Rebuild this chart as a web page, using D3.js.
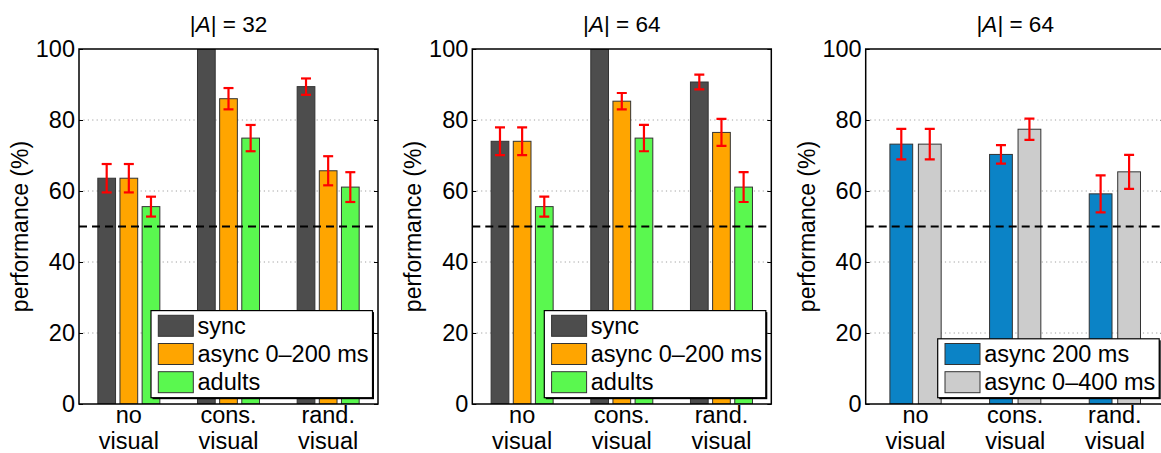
<!DOCTYPE html>
<html><head><meta charset="utf-8">
<script src="https://cdn.jsdelivr.net/npm/d3@7/dist/d3.min.js"></script>
<style>
body{margin:0;background:#fff;}
text{font-family:"Liberation Sans",Arial,Helvetica,sans-serif;fill:#000;}
</style></head>
<body><svg id="chart" width="1161" height="453"></svg>
<script>
// ---- data ----
const categories = [["no","visual"],["cons.","visual"],["rand.","visual"]];
const yTicks = [0,20,40,60,80,100];
const titles = [{pre:"|",it:"A",post:"| = 32"},{pre:"|",it:"A",post:"| = 64"},{pre:"|",it:"A",post:"| = 64"}];

const seriesNames12 = ["sync","async 0\u2013200 ms","adults"];
const seriesColors12 = ["#4d4d4d","#ffa500","#5af84f"];
const seriesNames3 = ["async 200 ms","async 0\u2013400 ms"];
const seriesColors3 = ["#0b83c6","#cccccc"];

// panel 1 (|A|=32)
const p1Sync   = [63.6, 100, 89.4];
const p1SyncE  = [4.0, null, 2.3];
const p1Async  = [63.6, 86.0, 65.7];
const p1AsyncE = [4.0, 3.0, 4.1];
const p1Adult  = [55.6, 74.9, 61.1];
const p1AdultE = [2.8, 3.7, 4.2];
// panel 2 (|A|=64)
const p2Sync   = [74.0, 100, 90.7];
const p2SyncE  = [3.9, null, 2.1];
const p2Async  = [74.0, 85.3, 76.5];
const p2AsyncE = [3.9, 2.3, 3.8];
const p2Adult  = [55.6, 74.9, 61.1];
const p2AdultE = [2.8, 3.7, 4.2];
// panel 3 (|A|=64)
const p3A200   = [73.2, 70.3, 59.2];
const p3A200E  = [4.3, 2.6, 5.2];
const p3A400   = [73.2, 77.4, 65.4];
const p3A400E  = [4.3, 3.0, 4.8];

const chanceLevel = 50;

const panels = [
  {title:titles[0], names:seriesNames12, colors:seriesColors12,
   vals:[p1Sync,p1Async,p1Adult], errs:[p1SyncE,p1AsyncE,p1AdultE]},
  {title:titles[1], names:seriesNames12, colors:seriesColors12,
   vals:[p2Sync,p2Async,p2Adult], errs:[p2SyncE,p2AsyncE,p2AdultE]},
  {title:titles[2], names:seriesNames3, colors:seriesColors3,
   vals:[p3A200,p3A400], errs:[p3A200E,p3A400E]}
];

// ---- layout ----
const svg = d3.select("#chart");
const lefts = [79, 472.3, 865.7];
const W = 299, plotTop = 49, plotBottom = 404;
const FS = 23;

panels.forEach((p, pi) => {
  const L = lefts[pi];
  const g = svg.append("g");
  const x = d3.scaleLinear().domain([0.5, 3.5]).range([L, L + W]);
  const y = d3.scaleLinear().domain([0, 100]).range([plotBottom, plotTop]);
  const clipId = "clip" + pi;
  svg.append("defs").append("clipPath").attr("id", clipId)
    .append("rect").attr("x", L).attr("y", plotTop).attr("width", W).attr("height", plotBottom - plotTop);

  // grid
  g.selectAll(".grid").data(yTicks.filter(t => t > 0 && t < 100)).enter().append("line")
    .attr("x1", L).attr("x2", L + W).attr("y1", d => y(d)).attr("y2", d => y(d))
    .attr("stroke", "#a0a0a0").attr("stroke-width", 1).attr("stroke-dasharray", "1.2,3.2");

  const n = p.vals.length;
  const gw = Math.min(0.8, n / (n + 1.5));
  const step = gw / n;
  const bw = step * 0.8;
  const plot = g.append("g").attr("clip-path", `url(#${clipId})`);

  p.vals.forEach((arr, si) => {
    const off = -gw / 2 + step * (si + 0.5);
    plot.selectAll(null).data(arr).enter().append("rect")
      .attr("x", (d, i) => x(i + 1 + off - bw / 2))
      .attr("width", x(1 + bw) - x(1))
      .attr("y", d => y(d))
      .attr("height", d => y(0) - y(d))
      .attr("fill", p.colors[si]).attr("stroke", "#333").attr("stroke-width", 1);
  });

  // chance line
  plot.append("line").attr("x1", L).attr("x2", L + W)
    .attr("y1", y(chanceLevel)).attr("y2", y(chanceLevel))
    .attr("stroke", "#000").attr("stroke-width", 2).attr("stroke-dasharray", "8,5");

  // error bars
  p.vals.forEach((arr, si) => {
    const off = -gw / 2 + step * (si + 0.5);
    arr.forEach((v, i) => {
      const e = p.errs[si][i];
      if (e == null) return;
      const cx = x(i + 1 + off);
      const eg = plot.append("g").attr("stroke", "#ff0000").attr("stroke-width", 2.2);
      eg.append("line").attr("x1", cx).attr("x2", cx).attr("y1", y(v - e)).attr("y2", y(v + e));
      eg.append("line").attr("x1", cx - 5).attr("x2", cx + 5).attr("y1", y(v - e)).attr("y2", y(v - e));
      eg.append("line").attr("x1", cx - 5).attr("x2", cx + 5).attr("y1", y(v + e)).attr("y2", y(v + e));
    });
  });

  // axes ticks (inward, left and right)
  const axL = d3.axisLeft(y).tickValues(yTicks).tickSizeInner(-4).tickSizeOuter(0).tickPadding(4).tickFormat(d3.format("d"));
  const gl = g.append("g").attr("transform", `translate(${L},0)`).call(axL);
  gl.select(".domain").remove();
  gl.selectAll("line").attr("stroke", "#000").attr("stroke-width", 1);
  gl.selectAll("text").style("font-size", "23.5px").attr("font-family", "Liberation Sans, Arial, sans-serif");
  const axR = d3.axisRight(y).tickValues(yTicks).tickSizeInner(-4).tickSizeOuter(0).tickFormat("");
  const gr = g.append("g").attr("transform", `translate(${L + W},0)`).call(axR);
  gr.select(".domain").remove();
  gr.selectAll("line").attr("stroke", "#000");

  // box
  g.append("rect").attr("x", L).attr("y", plotTop).attr("width", W).attr("height", plotBottom - plotTop)
    .attr("fill", "none").attr("stroke", "#000").attr("stroke-width", 1.5);

  // x labels
  categories.forEach((c, i) => {
    const t = g.append("text").attr("x", x(i + 1)).attr("y", 423)
      .attr("text-anchor", "middle").style("font-size", "23.5px");
    t.append("tspan").attr("x", x(i + 1)).attr("dy", 0).text(c[0]);
    t.append("tspan").attr("x", x(i + 1)).attr("dy", 25.5).text(c[1]);
  });

  // title
  const tt = g.append("text").attr("x", L + W / 2).attr("y", 32).attr("text-anchor", "middle").style("font-size", "22.5px");
  tt.append("tspan").text(p.title.pre);
  tt.append("tspan").attr("font-style", "italic").text(p.title.it);
  tt.append("tspan").text(p.title.post);

  // y label
  g.append("text").attr("transform", `translate(${L - 51},${(plotTop + plotBottom) / 2}) rotate(-90)`)
    .attr("text-anchor", "middle").style("font-size", FS + "px").text("performance (%)");

  // legend
  const lx = L + 72, lw = 221.5, rowH = 28.2;
  const lb = 397.7;
  const lt = lb - 5 - 21 - rowH * (n - 1) - 4.7;
  const lg = g.append("g");
  lg.append("rect").attr("x", lx + 1.5).attr("y", lt + 1.5).attr("width", lw).attr("height", lb - lt)
    .attr("fill", "#000");
  lg.append("rect").attr("x", lx).attr("y", lt).attr("width", lw).attr("height", lb - lt)
    .attr("fill", "#fff").attr("stroke", "#000").attr("stroke-width", 1.2);
  p.names.forEach((nm, si) => {
    const ry = lt + 4.7 + si * rowH;
    lg.append("rect").attr("x", lx + 7.3).attr("y", ry).attr("width", 35).attr("height", 21)
      .attr("fill", p.colors[si]).attr("stroke", "#333").attr("stroke-width", 1);
    lg.append("text").attr("x", lx + 46.5).attr("y", ry + 18.5).style("font-size", "23.5px").text(nm);
  });
});
</script></body></html>
